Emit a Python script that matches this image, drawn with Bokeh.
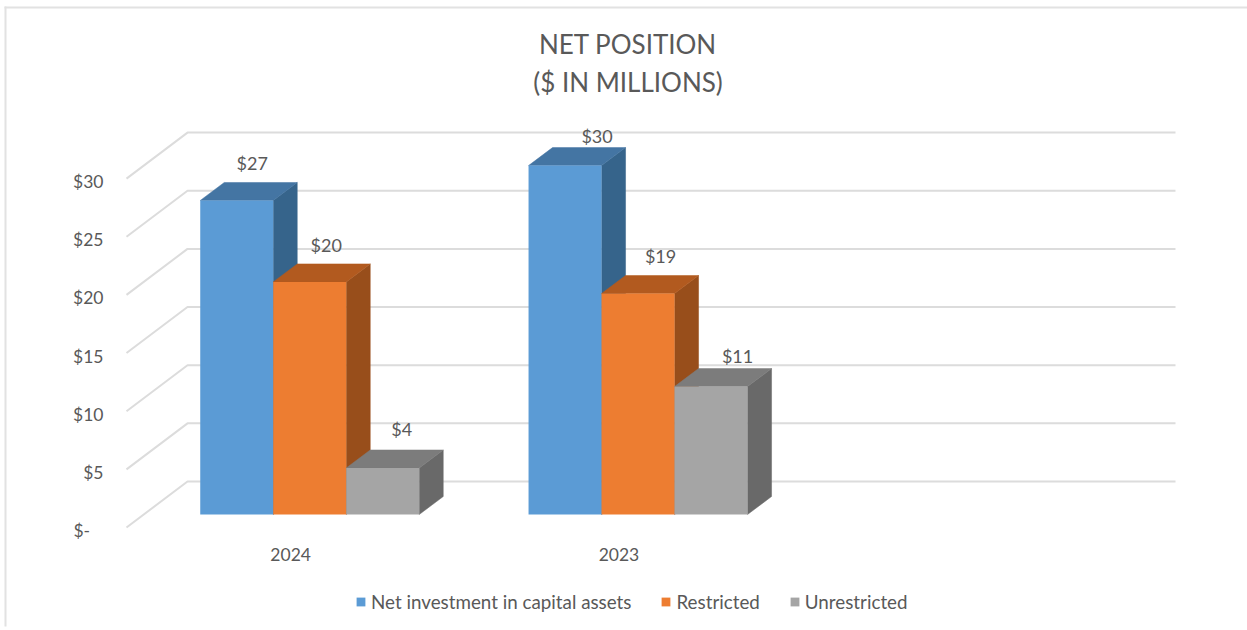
from bokeh.plotting import figure
from bokeh.models import (ColumnDataSource, Range1d, FixedTicker, Legend, LegendItem,
                          Label, BoxAnnotation)
from bokeh.core.properties import value
from bokeh.embed import file_html
from bokeh.resources import INLINE

# ---- data ----
years = ["2024", "2023"]
series_names = ["Net investment in capital assets", "Restricted", "Unrestricted"]
net_investment = [27, 30]
restricted = [20, 19]
unrestricted = [4, 11]
y_ticks = [0, 5, 10, 15, 20, 25, 30]
y_tick_labels = ["$-\u00a0\u00a0\u00a0", "$5", "$10", "$15", "$20", "$25", "$30"]
title_lines = ["NET POSITION", "($ IN MILLIONS)"]
# ---- styling ----
front = ["#5B9BD5", "#ED7D31", "#A5A5A5"]
top = ["#4475A3", "#B25A1F", "#7C7C7C"]
side = ["#36648B", "#984E1B", "#696969"]
TXT = "#595959"
GRID = "#DCDCDC"
FONT = "Lato"
FS = "17.5px"
FS_DATA = "18px"
FS_LEGEND = "18.8px"

W, H = 1247, 630
FL, FB = 126, 527            # floor front-left corner in pixels
CAT = 328.3                  # px per category
UNIT = 11.63                 # px per value unit
wall_dx, wall_dy = 61 / CAT, 46 / UNIT
bar_dx, bar_dy = 24 / CAT, 18 / UNIT
lead = 13 / 46               # how far into the floor the bars stand
bar_w = 73 / CAT
bar_start = 56.5 / CAT
back_end = (1175 - FL) / CAT

y0, y1 = -(H - FB) / UNIT, FB / UNIT
p = figure(width=W, height=H, output_backend="svg", toolbar_location=None,
           x_range=Range1d(-FL / CAT, (W - FL) / CAT), y_range=Range1d(y0, y1),
           min_border=0, outline_line_color=None, background_fill_color="white",
           border_fill_color="white", margin=(0, 0, 0, 0))
p.grid.visible = False
# the value labels sit slightly below their gridline ends in the original
p.extra_y_ranges = {"labels": Range1d(y0 + 3 / UNIT, y1 + 3 / UNIT)}

# axes
xa, ya = p.xaxis[0], p.yaxis[0]
for a in (xa, ya):
    a.axis_line_color = None
    a.major_tick_line_color = None
    a.minor_tick_line_color = None
    a.major_label_text_color = TXT
    a.major_label_text_font = FONT
    a.major_label_text_font_size = FS
ya.y_range_name = "labels"
ya.fixed_location = 0
ya.ticker = FixedTicker(ticks=y_ticks)
ya.major_label_overrides = dict(zip(y_ticks, y_tick_labels))
ya.major_label_standoff = 17
xa.fixed_location = 0
xa.ticker = FixedTicker(ticks=[i + 0.5 for i in range(len(years))])
xa.major_label_overrides = {i + 0.5: y for i, y in enumerate(years)}
xa.major_label_standoff = 14

# gridlines: wall slant + back wall
grid_x, grid_y = [], []
for t in y_ticks:
    grid_x.append([0, wall_dx, back_end])
    grid_y.append([t, t + wall_dy, t + wall_dy])
p.multi_line(grid_x, grid_y, line_color=GRID, line_width=2)

# 3D bars
all_vals = [net_investment, restricted, unrestricted]
ox, oy = lead * wall_dx, lead * wall_dy
legend_items = []
for s, vals in enumerate(all_vals):
    l = [i + bar_start + s * bar_w + ox for i in range(len(vals))]
    r = [a + bar_w for a in l]
    b = [oy] * len(vals)
    t = [v + oy for v in vals]
    tx = [[a, a + bar_dx, c + bar_dx, c] for a, c in zip(l, r)]
    ty = [[h, h + bar_dy, h + bar_dy, h] for h in t]
    sx = [[c, c + bar_dx, c + bar_dx, c] for c in r]
    sy = [[oy, oy + bar_dy, h + bar_dy, h] for h in t]
    p.patches(sx, sy, fill_color=side[s], line_color=side[s], line_width=0.5)
    p.patches(tx, ty, fill_color=top[s], line_color=top[s], line_width=0.5)
    q = p.quad(left=l, right=r, bottom=b, top=t, fill_color=front[s], line_color=None)
    legend_items.append(LegendItem(label=series_names[s], renderers=[q]))

# data labels (offsets follow the chart's hand placed labels)
lab_dx = [[15.5, 32], [16.5, 22.5], [19, 26.5]]
lab_dy = [[-37, -30], [-37, -38], [-39, -31]]
for s, vals in enumerate(all_vals):
    src = ColumnDataSource(dict(
        x=[i + bar_start + s * bar_w + ox + bar_w / 2 for i in range(len(vals))],
        y=[v + oy for v in vals],
        text=[f"${v}" for v in vals],
        xo=lab_dx[s], yo=lab_dy[s]))
    p.text(x="x", y="y", text="text", source=src, x_offset="xo", y_offset="yo",
           text_align="center", text_baseline="middle", text_color=TXT,
           text_font=value(FONT), text_font_size=FS_DATA)

# title
for line, py in zip(title_lines, [43, 81]):
    p.add_layout(Label(x=(627.5 - FL) / CAT, y=(FB - py) / UNIT, text=line, text_align="center",
                       text_baseline="middle", text_color=TXT, text_font=FONT, text_font_size="26px"))

# legend
leg = Legend(items=legend_items, orientation="horizontal", location=(355, 17),
             glyph_width=11, glyph_height=11, label_standoff=5, spacing=29, padding=0, margin=0,
             border_line_color=None, background_fill_alpha=0,
             label_text_color=TXT, label_text_font=FONT, label_text_font_size=FS_LEGEND)
p.add_layout(leg)

# picture frame of the original screenshot
p.add_layout(BoxAnnotation(left=4, right=6, top=6, bottom=626, left_units="canvas", right_units="canvas",
                           top_units="canvas", bottom_units="canvas", fill_color="#E2E2E2", fill_alpha=1,
                           line_color=None))
p.add_layout(BoxAnnotation(left=4, right=1247, top=6, bottom=8, left_units="canvas", right_units="canvas",
                           top_units="canvas", bottom_units="canvas", fill_color="#E2E2E2", fill_alpha=1,
                           line_color=None))

open("out.html", "w").write(file_html(p, INLINE))
